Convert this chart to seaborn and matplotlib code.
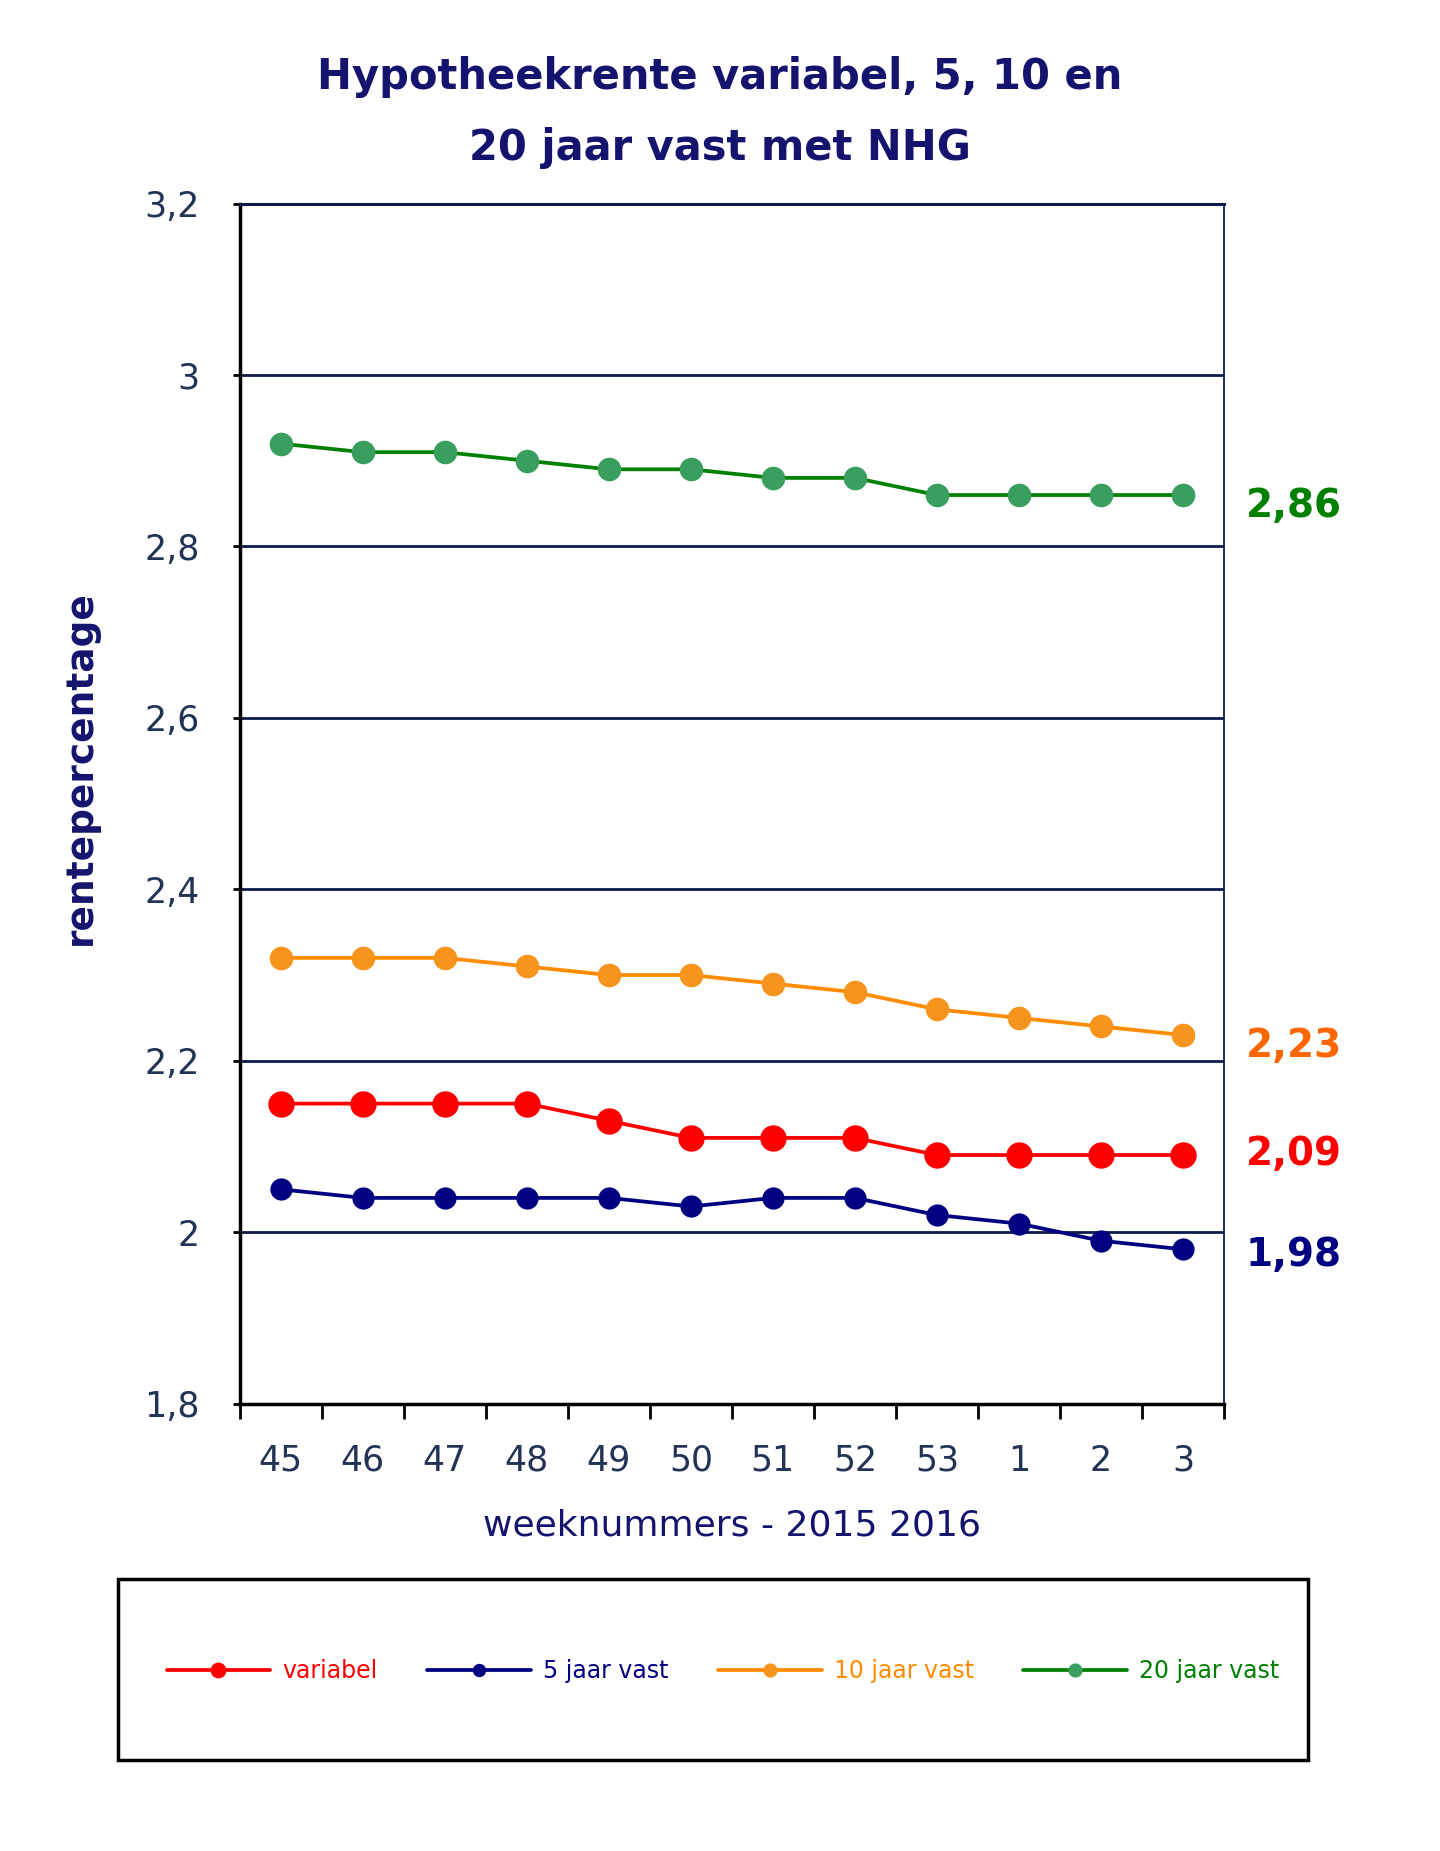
import matplotlib
matplotlib.use("Agg")
import matplotlib.pyplot as plt
import numpy as np
import pandas as pd
import seaborn as sns
from matplotlib.patches import Rectangle
from matplotlib.ticker import FixedLocator, FuncFormatter


WEEKS = ["45", "46", "47", "48", "49", "50", "51", "52", "53", "1", "2", "3"]
VARIABEL = [2.15, 2.15, 2.15, 2.15, 2.13, 2.11, 2.11, 2.11, 2.09, 2.09, 2.09, 2.09]
VAST_5 = [2.05, 2.04, 2.04, 2.04, 2.04, 2.03, 2.04, 2.04, 2.02, 2.01, 1.99, 1.98]
VAST_10 = [2.32, 2.32, 2.32, 2.31, 2.30, 2.30, 2.29, 2.28, 2.26, 2.25, 2.24, 2.23]
VAST_20 = [2.92, 2.91, 2.91, 2.90, 2.89, 2.89, 2.88, 2.88, 2.86, 2.86, 2.86, 2.86]

NAVY = "#14146e"
TICK_COLOR = "#223355"

# label, values, line colour, marker colour, marker size, end-label colour, end-label y shift (pt)
SERIES = [
    ("variabel", VARIABEL, "#ff0000", "#ff0000", 19, "#ff0000", 5),
    ("5 jaar vast", VAST_5, "#000080", "#000080", 16, "#000080", 0),
    ("10 jaar vast", VAST_10, "#ff8c00", "#f7941d", 17, "#ff6600", -4),
    ("20 jaar vast", VAST_20, "#008000", "#3a9f5e", 17, "#008000", -4),
]


def fmt_comma(value, _):
    return f"{value:g}".replace(".", ",")


def main() -> None:
    sns.set_theme(style="white")
    plt.rcParams["font.family"] = ["DejaVu Sans"]

    fig = plt.figure(figsize=(14.4, 18.51), dpi=100)
    ax = fig.add_axes([0.1665, 0.2417, 0.6835, 0.6483])

    x = np.arange(len(WEEKS))
    for label, values, line_color, marker_color, msize, _, _ in SERIES:
        df = pd.DataFrame({"week": x, "rente": values})
        sns.lineplot(
            data=df, x="week", y="rente", ax=ax, color=line_color, linewidth=2.7,
            marker="o", markersize=msize, markerfacecolor=marker_color,
            markeredgecolor=marker_color, markeredgewidth=0, label=label,
        )

    # end values to the right of the plot
    for label, values, _, _, _, text_color, shift in SERIES:
        ax.annotate(
            f"{values[-1]:.2f}".replace(".", ","),
            xy=(x[-1], values[-1]), xytext=(45, shift - 4), textcoords="offset points",
            ha="left", va="center", fontsize=28, fontweight="bold", color=text_color,
            annotation_clip=False,
        )

    ax.set_xlim(-0.5, len(WEEKS) - 0.5)
    ax.set_ylim(1.8, 3.2)
    ax.set_yticks(np.arange(1.8, 3.21, 0.2))
    ax.yaxis.set_major_formatter(FuncFormatter(fmt_comma))
    ax.set_xticks(x)
    ax.set_xticklabels(WEEKS)
    ax.xaxis.set_minor_locator(FixedLocator(np.arange(-0.5, len(WEEKS), 1.0)))

    ax.tick_params(axis="x", which="major", length=0, pad=29, labelsize=25, labelcolor=TICK_COLOR)
    ax.tick_params(axis="x", which="minor", bottom=True, length=11, width=2, color="black", direction="out")
    ax.tick_params(axis="y", which="major", left=True, length=5, width=2, color="black",
                   pad=24, labelsize=25, labelcolor=TICK_COLOR)

    ax.yaxis.grid(True, color="#0d1b4c", linewidth=2)
    ax.xaxis.grid(False)
    ax.set_axisbelow(True)

    ax.spines["left"].set_color("black")
    ax.spines["left"].set_linewidth(2.5)
    ax.spines["bottom"].set_color("black")
    ax.spines["bottom"].set_linewidth(2.5)
    ax.spines["top"].set_color("#0d1b4c")
    ax.spines["top"].set_linewidth(2.2)
    ax.spines["right"].set_color("#0d1b4c")
    ax.spines["right"].set_linewidth(1.3)

    ax.set_xlabel("weeknummers - 2015 2016", fontsize=26, color=NAVY, labelpad=22)
    ax.set_ylabel("rentepercentage", fontsize=27, fontweight="bold", color=NAVY)
    ax.yaxis.set_label_coords(-0.143, 0.53)

    fig.text(0.5, 0.9585, "Hypotheekrente variabel, 5, 10 en", ha="center", va="center",
             fontsize=30, fontweight="bold", color=NAVY)
    fig.text(0.5, 0.920, "20 jaar vast met NHG", ha="center", va="center",
             fontsize=30, fontweight="bold", color=NAVY)

    # legend box below the chart
    fig.patches.append(Rectangle((0.082, 0.049), 0.826, 0.098, transform=fig.transFigure,
                                 fill=False, edgecolor="black", linewidth=2.5))
    handles, labels = ax.get_legend_handles_labels()
    ax.get_legend().remove()
    fig.legend(handles, labels, loc="center", bbox_to_anchor=(0.502, 0.097), ncol=4,
               frameon=False, fontsize=17, labelcolor="linecolor", columnspacing=2.1,
               handlelength=4.4, handletextpad=0.5, markerscale=0.6)

    fig.savefig("out.png", dpi=100)
    plt.close(fig)


if __name__ == "__main__":
    main()
